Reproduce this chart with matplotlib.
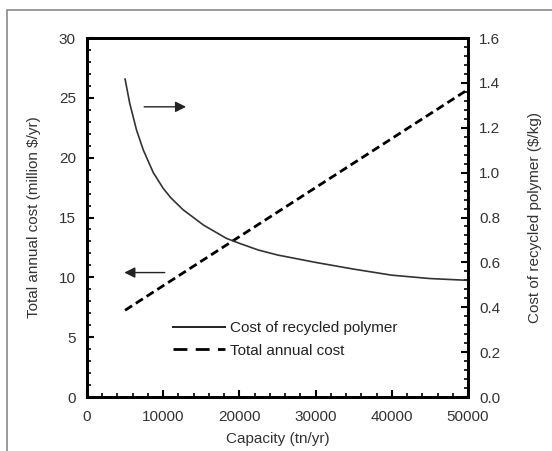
"""Total annual cost and cost of recycled polymer vs plant capacity."""
import matplotlib.pyplot as plt
from matplotlib.lines import Line2D
from matplotlib.patches import Rectangle
from matplotlib.ticker import MultipleLocator

plt.rcParams["font.family"] = ["Liberation Sans", "DejaVu Sans"]
plt.rcParams["font.size"] = 11

# Cost of recycled polymer ($/kg), right axis
cap_polymer = [5000, 5600, 6500, 7400, 8700, 10000, 11000, 12600, 15300, 18300,
               20000, 22500, 25000, 30000, 35000, 40000, 45000, 50000]
cost_polymer = [1.417, 1.31, 1.19, 1.10, 1.0, 0.93, 0.888, 0.835, 0.766, 0.707,
                0.685, 0.655, 0.633, 0.60, 0.57, 0.543, 0.528, 0.52]

# Total annual cost (million $/yr), left axis
cap_total = [5000, 10000, 15000, 20000, 25000, 30000, 35000, 40000, 45000, 50000]
cost_total = [7.25, 9.3, 11.35, 13.4, 15.45, 17.5, 19.55, 21.6, 23.65, 25.7]

fig = plt.figure(figsize=(5.52, 4.51), dpi=100)
ax = fig.add_axes([0.1576, 0.1197, 0.6902, 0.7960])
ax2 = ax.twinx()

# grey frame of the original figure (cut off at right and bottom)
fig.patches.append(Rectangle((7 / 552, -0.2), 1.2, 1.2 - 10 / 451,
                             transform=fig.transFigure, fill=False,
                             edgecolor="#8a8a8a", linewidth=1.2, clip_on=False))

ax2.plot(cap_polymer, cost_polymer, "-", color="#333333", lw=1.2)
ax.plot(cap_total, cost_total, "--", color="black", lw=2.0, dashes=(3.0, 1.6))

ax.set_xlim(0, 50000)
ax.set_ylim(0, 30)
ax2.set_ylim(0, 1.6)

ax.xaxis.set_major_locator(MultipleLocator(10000))
ax.xaxis.set_minor_locator(MultipleLocator(2000))
ax.yaxis.set_major_locator(MultipleLocator(5))
ax.yaxis.set_minor_locator(MultipleLocator(1))
ax2.yaxis.set_major_locator(MultipleLocator(0.2))
ax2.yaxis.set_minor_locator(MultipleLocator(0.04))
ax2.yaxis.set_major_formatter(plt.FormatStrFormatter("%.1f"))

for a in (ax, ax2):
    a.tick_params(which="major", direction="in", length=5, width=1.5, color="black",
                  labelsize=11, labelcolor="#333333")
    a.tick_params(which="minor", direction="in", length=3, width=1.2, color="black")
    for s in a.spines.values():
        s.set_linewidth(2)
ax.tick_params(axis="y", pad=8)
ax.tick_params(axis="x", pad=9)
ax2.tick_params(axis="y", pad=8)

ax.set_xlabel("Capacity (tn/yr)", color="#333333", labelpad=6)
ax.set_ylabel("Total annual cost (million $/yr)", color="#333333", labelpad=13)
ax2.set_ylabel("Cost of recycled polymer ($/kg)", color="#333333", labelpad=20)

# arrows showing which axis each curve belongs to
ax.annotate("", xy=(13000, 24.25), xytext=(7500, 24.25),
            arrowprops=dict(arrowstyle="-|>", color="#222222", lw=1.0,
                            mutation_scale=16, shrinkA=0, shrinkB=0))
ax.annotate("", xy=(4900, 10.4), xytext=(10200, 10.4),
            arrowprops=dict(arrowstyle="-|>", color="#222222", lw=1.0,
                            mutation_scale=16, shrinkA=0, shrinkB=0))

# legend handles: the dashed sample uses longer dashes than the plotted line
h1 = Line2D([], [], color="#222222", lw=1.4)
h2 = Line2D([], [], color="black", lw=2.0, dashes=(5.0, 3.0))
ax.legend([h1, h2], ["Cost of recycled polymer", "Total annual cost"],
          frameon=False, loc="center left", bbox_to_anchor=(0.19, 0.16),
          handlelength=3.4, handletextpad=0.3, labelspacing=0.55, fontsize=11,
          labelcolor="#222222")

fig.savefig("out.png", dpi=100)
